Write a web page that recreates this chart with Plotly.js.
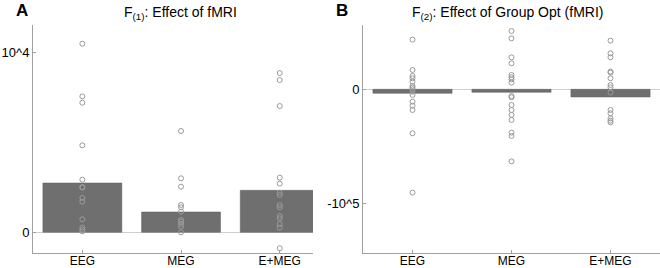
<!DOCTYPE html>
<html>
<head>
<meta charset="utf-8">
<script src="https://cdn.plot.ly/plotly-3.0.1.min.js"></script>
<style>html,body{margin:0;padding:0;background:#fff;}#chart{width:660px;height:268px;}</style>
</head>
<body>
<div id="chart"></div>
<script>
// Categories
const categories = ['EEG', 'MEG', 'E+MEG'];

// Panel A: F(1) Effect of fMRI
const barA = [2745, 1132, 2337];
const ptsA_EEG = [10500, 7568, 7216, 4842, 2931, 2523, 2486, 1911, 1707, 723, 260, 148, 56];
const ptsA_MEG = [5639, 3005, 2541, 1521, 1391, 1150, 686, 594, 464, 315, 0];
const ptsA_EMEG = [8867, 8477, 7030, 3042, 2708, 2207, 2078, 1521, 1391, 909, 779, 464, 260, -890];

// Panel B: F(2) Effect of Group Opt (fMRI)
const barB = [-3509, -2632, -6725];
const ptsB_EEG = [43568, 16959, 11696, 9649, 6725, 2924, 1462, 0, -2047, -4971, -10819, -14328, -18129, -38597, -90644];
const ptsB_MEG = [51170, 44737, 28070, 22807, 12573, 10526, 8772, 5848, -5848, -7018, -13743, -18129, -22515, -26901, -38012, -40936, -63158];
const ptsB_EMEG = [42690, 31579, 28070, 15497, 14620, 9649, 3801, 1754, -2924, -18129, -21053, -25439, -27486, -28948];

// Tick labels
const yTickValsA = [0, 10000];
const yTickTextA = ['0', '10^4'];
const yTickValsB = [-100000, 0];
const yTickTextB = ['-10^5', '0'];

const barColor = '#6f6f6f';
const ptColor = '#9a9a9a';
const fontFam = 'Liberation Sans, Arial, sans-serif';

function pointsTrace(vals, cat, xa, ya) {
  return {
    type: 'scatter', mode: 'markers',
    x: vals.map(() => cat), y: vals,
    xaxis: xa, yaxis: ya,
    marker: {symbol: 'circle-open', size: 5, color: ptColor, line: {width: 1, color: ptColor}},
    hoverinfo: 'skip', showlegend: false
  };
}

const traces = [
  {type: 'bar', x: categories, y: barA, xaxis: 'x', yaxis: 'y', width: 0.8,
   marker: {color: barColor, line: {color: '#5e5e5e', width: 0.5}}, showlegend: false},
  pointsTrace(ptsA_EEG, categories[0], 'x', 'y'),
  pointsTrace(ptsA_MEG, categories[1], 'x', 'y'),
  pointsTrace(ptsA_EMEG, categories[2], 'x', 'y'),
  {type: 'bar', x: categories, y: barB, xaxis: 'x2', yaxis: 'y2', width: 0.8,
   marker: {color: barColor, line: {color: '#5e5e5e', width: 0.5}}, showlegend: false},
  pointsTrace(ptsB_EEG, categories[0], 'x2', 'y2'),
  pointsTrace(ptsB_MEG, categories[1], 'x2', 'y2'),
  pointsTrace(ptsB_EMEG, categories[2], 'x2', 'y2')
];

const axisCommon = {
  showline: true, linecolor: '#a0a0a0', linewidth: 1, mirror: false,
  showgrid: false, ticks: 'inside', ticklen: 3, tickcolor: '#a0a0a0',
  tickfont: {family: fontFam, size: 13, color: '#000'}
};
const xTickFont = {family: fontFam, size: 12, color: '#000'};

const layout = {
  width: 660, height: 268,
  margin: {l: 0, r: 0, t: 0, b: 0},
  paper_bgcolor: '#fff', plot_bgcolor: '#fff',
  showlegend: false,
  xaxis: Object.assign({}, axisCommon, {domain: [33/660, 313/660], type: 'category',
    categoryarray: categories, range: [-0.5, 2.337], anchor: 'y', zeroline: false,
    tickfont: xTickFont, ticklabelstandoff: -3}),
  yaxis: Object.assign({}, axisCommon, {domain: [15.3/268, 243/268], range: [-1136, 11543],
    tickvals: yTickValsA, ticktext: yTickTextA, anchor: 'x',
    zeroline: true, zerolinecolor: '#cfcfcf', zerolinewidth: 1}),
  xaxis2: Object.assign({}, axisCommon, {domain: [363/660, 1], type: 'category',
    categoryarray: categories, range: [-0.5, 2.5], anchor: 'y2', zeroline: false,
    tickfont: xTickFont, ticklabelstandoff: -3}),
  yaxis2: Object.assign({}, axisCommon, {domain: [15.3/268, 243/268], range: [-143335, 56404],
    tickvals: yTickValsB, ticktext: yTickTextB, anchor: 'x2',
    zeroline: true, zerolinecolor: '#cfcfcf', zerolinewidth: 1}),
  annotations: [
    {text: '<b>A</b>', xref: 'paper', yref: 'paper', x: 22/660, y: 1 - 11/268,
     xanchor: 'center', yanchor: 'middle', showarrow: false,
     font: {family: fontFam, size: 17, color: '#000'}},
    {text: '<b>B</b>', xref: 'paper', yref: 'paper', x: 342/660, y: 1 - 11/268,
     xanchor: 'center', yanchor: 'middle', showarrow: false,
     font: {family: fontFam, size: 17, color: '#000'}},
    {text: 'F<sub>(1)</sub>: Effect of fMRI', xref: 'paper', yref: 'paper', x: 180/660, y: 1 - 13/268,
     xanchor: 'center', yanchor: 'middle', showarrow: false,
     font: {family: fontFam, size: 14, color: '#000'}},
    {text: 'F<sub>(2)</sub>: Effect of Group Opt (fMRI)', xref: 'paper', yref: 'paper', x: 507/660, y: 1 - 13/268,
     xanchor: 'center', yanchor: 'middle', showarrow: false,
     font: {family: fontFam, size: 14, color: '#000'}}
  ]
};

Plotly.newPlot('chart', traces, layout, {staticPlot: true, displayModeBar: false});
</script>
</body>
</html>
